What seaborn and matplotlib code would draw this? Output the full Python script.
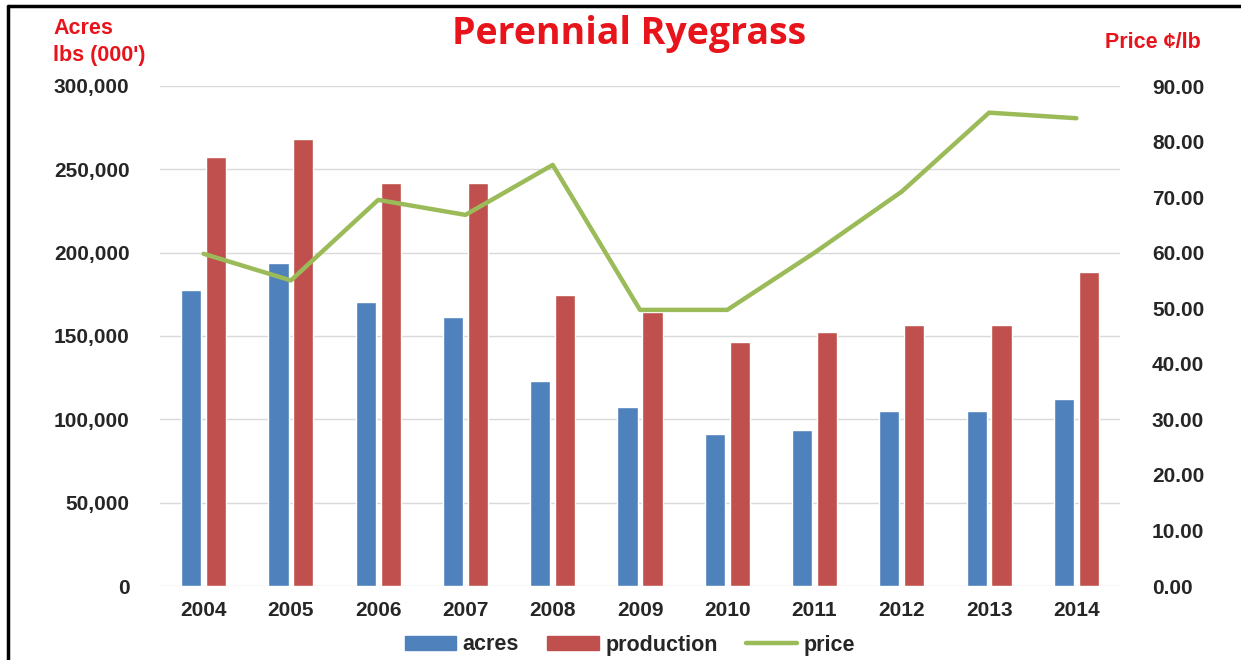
import numpy as np
import pandas as pd
import matplotlib
matplotlib.use("Agg")
import matplotlib.pyplot as plt
import seaborn as sns
from matplotlib.patches import Patch
from matplotlib.lines import Line2D
from matplotlib.ticker import FuncFormatter

# Daten
years = ['2004', '2005', '2006', '2007', '2008', '2009', '2010', '2011', '2012', '2013', '2014']
acres = [177700, 193700, 170600, 161500, 123000, 107300, 91400, 93600, 105200, 105200, 112200]
production = [257300, 268300, 241700, 241700, 174700, 164600, 146600, 152500, 156700, 156700, 188300]
price = [59.8, 55.0, 69.5, 66.8, 75.8, 49.7, 49.7, 60.0, 71.0, 85.2, 84.2]

blue = '#4F81BD'
red = '#C0504D'
green = '#9BBB59'

df = pd.DataFrame({
    'year': years * 2,
    'series': ['acres'] * len(years) + ['production'] * len(years),
    'value': acres + production,
})

sns.set_style('white')
plt.rcParams['font.family'] = ['Liberation Sans', 'DejaVu Sans']

W, H = 1241, 660
fig = plt.figure(figsize=(W / 100, H / 100), dpi=100)
ax = fig.add_axes([160 / W, (H - 586) / H, 960 / W, 500 / H])

sns.barplot(data=df, x='year', y='value', hue='series', order=years,
            palette={'acres': blue, 'production': red},
            width=0.57, gap=0.19, saturation=1, ax=ax, legend=False)
ax.set_xlim(-0.5, len(years) - 0.5)
ax.set_ylim(0, 300000)
ax.set_yticks(np.arange(0, 300001, 50000))
ax.yaxis.set_major_formatter(FuncFormatter(lambda v, p: f'{int(v):,}'))
ax.grid(axis='y', color='#D9D9D9', linewidth=1)
ax.set_axisbelow(True)
ax.set_xlabel('')
ax.set_ylabel('')
for s in ax.spines.values():
    s.set_visible(False)
ax.tick_params(axis='y', length=0, pad=22, labelsize=15)
ax.tick_params(axis='x', length=0, pad=11, labelsize=15)
for t in ax.get_xticklabels() + ax.get_yticklabels():
    t.set_fontweight('bold')

# Preis-Linie auf zweiter Achse
ax2 = ax.twinx()
sns.lineplot(x=np.arange(len(years)), y=price, color=green, linewidth=3.2, ax=ax2)
ax2.set_ylim(0, 90)
ax2.set_yticks(np.arange(0, 91, 10))
ax2.yaxis.set_major_formatter(FuncFormatter(lambda v, p: f'{v:.2f}'))
for s in ax2.spines.values():
    s.set_visible(False)
ax2.tick_params(axis='y', length=0, pad=23, labelsize=15)
for t in ax2.get_yticklabels():
    t.set_fontweight('bold')
ax2.grid(False)

# Titel und Achsentitel
fig.text(629 / W, 1 - 34 / H, 'Perennial Ryegrass', color='#E8141B', fontsize=27,
         fontweight='bold', family=['Open Sans', 'DejaVu Sans'], ha='center', va='center')
fig.text(53 / W, 1 - 28 / H, 'Acres', color='#E8141B', fontsize=15.5, fontweight='bold',
         ha='left', va='center')
fig.text(53 / W, 1 - 55 / H, "lbs (000')", color='#E8141B', fontsize=15.5, fontweight='bold',
         ha='left', va='center')
fig.text(1105 / W, 1 - 42 / H, 'Price ¢/lb', color='#E8141B', fontsize=15.5, fontweight='bold',
         ha='left', va='center')

# Legende
handles = [Patch(color=blue, label='acres'),
           Patch(color=red, label='production'),
           Line2D([0], [0], color=green, linewidth=3.2, label='price')]
fig.legend(handles=handles, loc='center', bbox_to_anchor=(630 / W, 1 - 645 / H), ncol=3,
           frameon=False, prop={'weight': 'bold', 'size': 15.5}, handlelength=2.4,
           handleheight=0.6, handletextpad=0.3, columnspacing=1.3)

# Rahmen
fig.add_artist(Line2D([8 / W, 1], [1 - 6 / H, 1 - 6 / H], color='black', linewidth=2.5,
                      transform=fig.transFigure))
fig.add_artist(Line2D([8 / W, 8 / W], [0, 1 - 6 / H], color='black', linewidth=2.5,
                      transform=fig.transFigure))

fig.savefig('out.png', dpi=100)
